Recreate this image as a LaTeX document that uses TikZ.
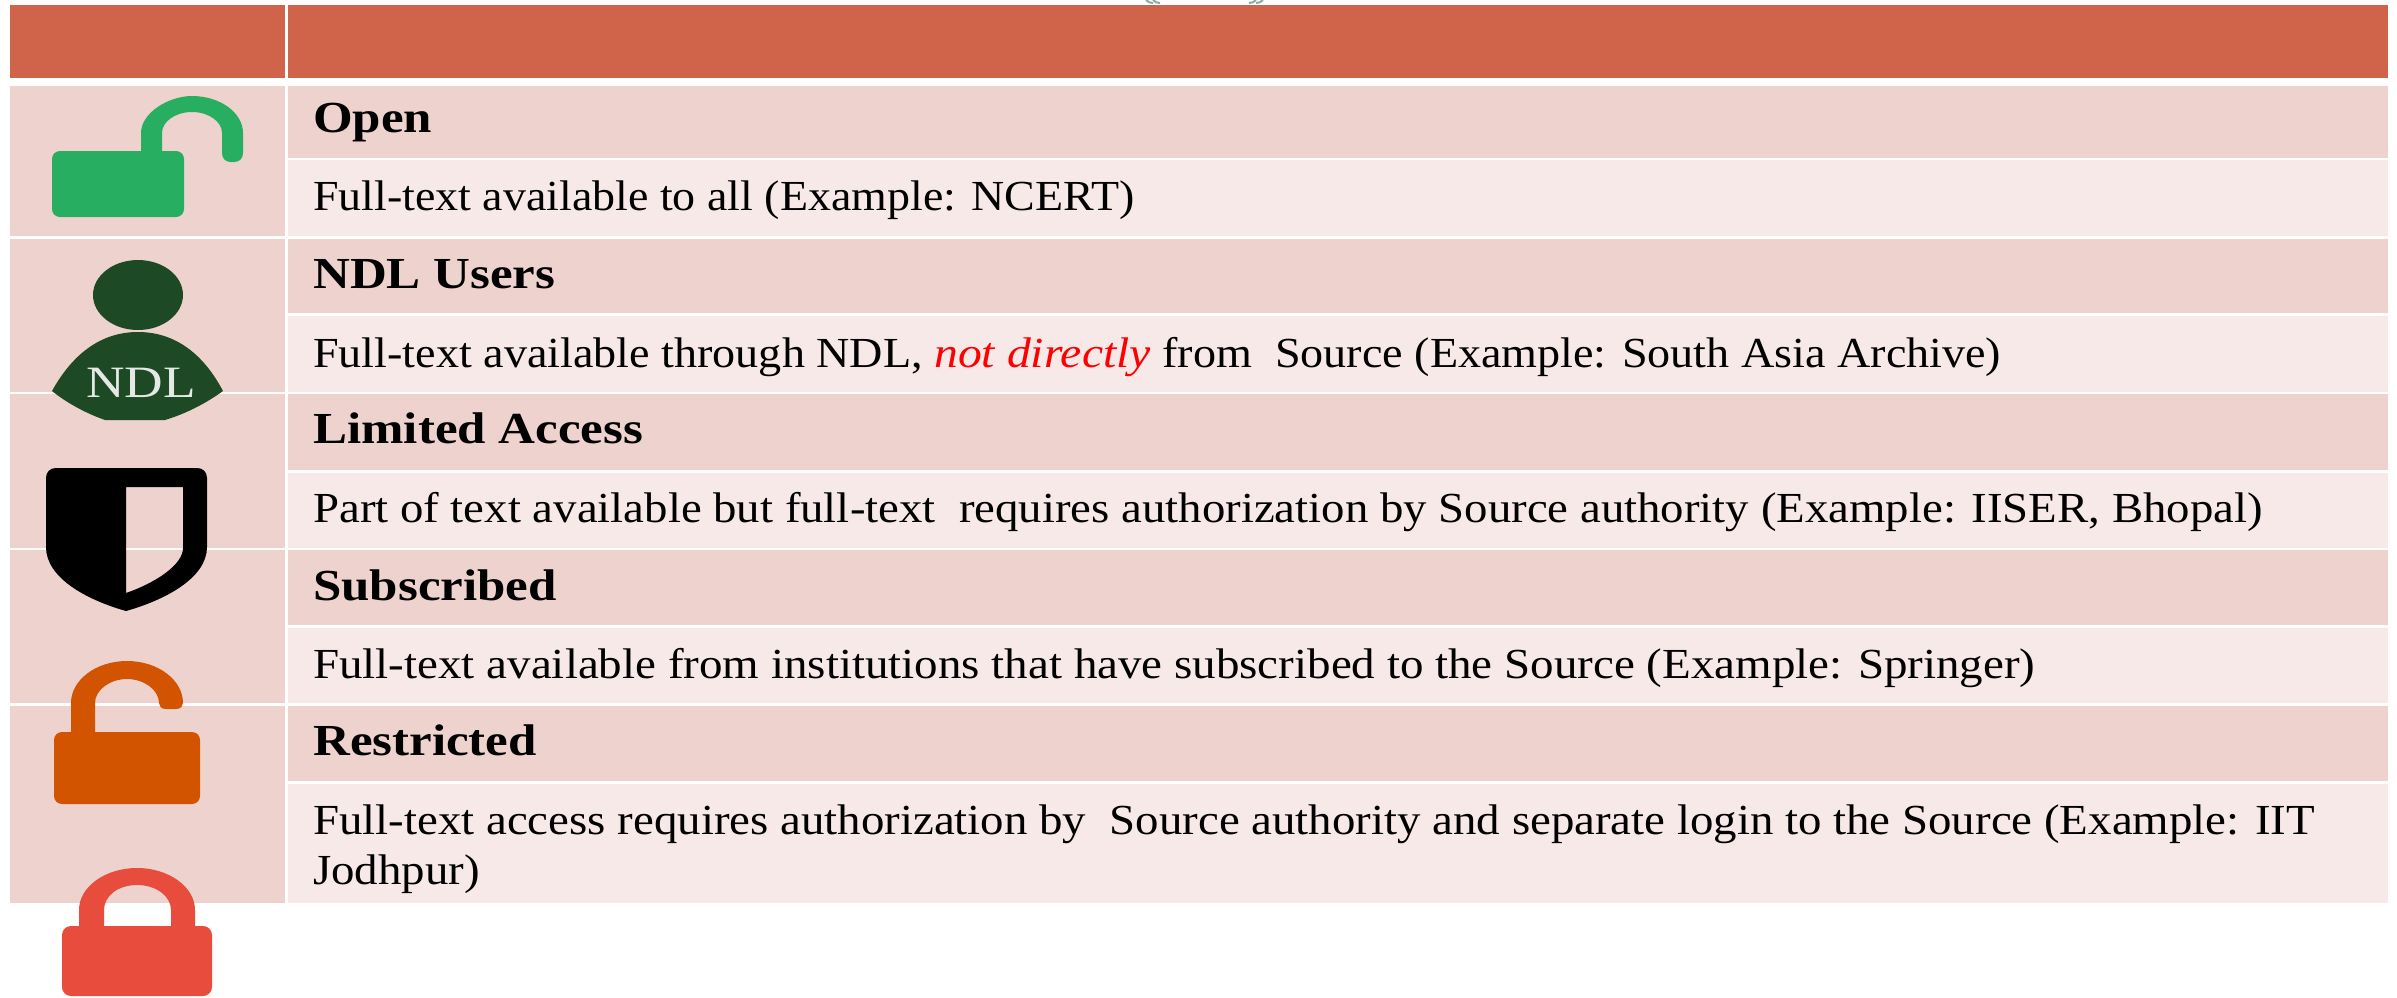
\documentclass[tikz,border=0pt]{standalone}
\usepackage{fontspec}
\setmainfont[FakeStretch=1.094,BoldFeatures={FakeStretch=1.15},ItalicFeatures={FakeStretch=1.13}]{Liberation Serif}
\newfontfamily\ndlfont[FakeStretch=1.19]{Liberation Serif}
\definecolor{hdr}{HTML}{D0644A}
\definecolor{rowa}{HTML}{EED2CE}
\definecolor{rowb}{HTML}{F7E9E8}
\definecolor{lockgreen}{HTML}{27AE60}
\definecolor{ndlgreen}{HTML}{1D4A24}
\definecolor{lockorange}{HTML}{D35400}
\definecolor{lockred}{HTML}{E74C3C}
\definecolor{notred}{HTML}{FF0000}
\definecolor{titletip}{HTML}{8FA8A4}
\tikzset{
  hcell/.style={fill=hdr},
  acell/.style={fill=rowa},
  bcell/.style={fill=rowb},
  rowtitle/.style={anchor=base west,inner sep=0pt,font=\fontsize{44.5}{50}\selectfont\bfseries},
  rowtext/.style={anchor=base west,inner sep=0pt,font=\fontsize{43}{50}\selectfont}
}
\begin{document}
\begin{tikzpicture}[x=1bp,y=-1bp]
\useasboundingbox (0,0) rectangle (2397,997);
\fill[white] (0,0) rectangle (2397,997);
% clipped title remnants
\draw[titletip,line width=2pt] (1146,0) .. controls (1148,2) and (1150,3) .. (1153,3);
\draw[titletip,line width=2pt] (1153,0) .. controls (1155,2) and (1157,3) .. (1160,3);
\draw[titletip,line width=2pt] (1263,0) .. controls (1261,2) and (1259,3) .. (1256,3);
\draw[titletip,line width=2pt] (1256,0) .. controls (1254,2) and (1252,3) .. (1249,3);
% header
\fill[hcell] (10,5) rectangle (285,78);
\fill[hcell] (288,5) rectangle (2388,78);
% left column
\fill[acell] (10,86) rectangle (285,236);
\fill[acell] (10,239) rectangle (285,392);
\fill[acell] (10,394) rectangle (285,548);
\fill[acell] (10,550) rectangle (285,703);
\fill[acell] (10,706) rectangle (285,903);
% right column
\fill[acell] (288,86) rectangle (2388,158);
\fill[bcell] (288,160) rectangle (2388,236);
\fill[acell] (288,239) rectangle (2388,313);
\fill[bcell] (288,316) rectangle (2388,392);
\fill[acell] (288,394) rectangle (2388,470);
\fill[bcell] (288,473) rectangle (2388,548);
\fill[acell] (288,550) rectangle (2388,625);
\fill[bcell] (288,628) rectangle (2388,703);
\fill[acell] (288,706) rectangle (2388,781);
\fill[bcell] (288,784) rectangle (2388,903);
% texts
\node[rowtitle] (t1) at (313,132) {Open};
\node[rowtext] (d1) at (313,210) {\scalebox{0.98}[1]{Full-text available to all (Example: NCERT)}};
\node[rowtitle] (t2) at (313,288) {NDL Users};
\node[rowtext] (d2) at (313,367) {\scalebox{0.984}[1]{Full-text available through NDL, \textcolor{notred}{\itshape not directly} from\ \ Source (Example: South Asia Archive)}};
\node[rowtitle] (t3) at (313,443) {Limited Access};
\node[rowtext] (d3) at (313,522) {\scalebox{0.9985}[1]{Part of text available but full-text\ \ requires authorization by Source authority (Example: IISER, Bhopal)}};
\node[rowtitle] (t4) at (313,600) {Subscribed};
\node[rowtext] (d4) at (313,678) {\scalebox{1.0024}[1]{Full-text available from institutions that have subscribed to the Source (Example: Springer)}};
\node[rowtitle] (t5) at (313,755) {Restricted};
\node[rowtext] (d5) at (313,834) {Full-text access requires authorization by\ \ Source authority and separate login to the Source (Example: IIT};
\node[rowtext] (d5b) at (313,884) {Jodhpur)};
% green open lock
\fill[lockgreen,rounded corners=8] (52,151) rectangle (184,217);
\fill[lockgreen] (141,155) -- (141,133) .. controls (141,112.6) and (169,96) .. (192,96)
  .. controls (220,96) and (243,112.6) .. (243,133) -- (243,153)
  .. controls (243,159) and (239,162) .. (234,162) -- (231,162)
  .. controls (226,162) and (222,159) .. (222,153) -- (222,133)
  .. controls (222,121.5) and (208.5,112) .. (192,112) .. controls (175.5,112) and (162,121.5) .. (162,133) -- (162,155) -- cycle;
% NDL user
\fill[ndlgreen] (138,295) ellipse [x radius=45,y radius=35];
\fill[ndlgreen] (52,391) .. controls (72,355) and (100,332) .. (138,332)
  .. controls (176,332) and (204,355) .. (223,391) .. controls (205,404) and (185,414) .. (165,420)
  -- (105,420) .. controls (88,414) and (68,404) .. (52,391) -- cycle;
\node[inner sep=0pt,anchor=base,text=white!88!ndlgreen,font=\fontsize{45}{50}\ndlfont] (ndl) at (141,397) {NDL};
% shield
\fill[black,even odd rule] (56,468) -- (197,468) .. controls (203,468) and (207,472) .. (207,478)
  -- (207,547) .. controls (207,578) and (165,600) .. (126,611)
  .. controls (87,600) and (46,578) .. (46,547) -- (46,478) .. controls (46,472) and (50,468) .. (56,468) -- cycle
  (126,487) -- (183,487) -- (183,548) .. controls (183,565) and (155,583) .. (126,593) -- cycle;
% orange open lock
\fill[lockorange,rounded corners=8] (54,732) rectangle (200,804);
\fill[lockorange] (71,740) -- (71,703) .. controls (71,680) and (96,661) .. (127,661)
  .. controls (158,661) and (183,680) .. (183,703) .. controls (183,706) and (181,709) .. (176,709)
  -- (166,709) .. controls (161,709) and (159,706) .. (159,703)
  .. controls (159,690) and (144,679) .. (127,679) .. controls (110,679) and (95,690) .. (95,703) -- (95,740) -- cycle;
% red lock
\fill[lockred,rounded corners=9] (62,926) rectangle (212,996);
\fill[lockred,even odd rule] (79,935) -- (79,910) .. controls (79,887) and (105,868) .. (137,868)
  .. controls (169,868) and (195,887) .. (195,910) -- (195,935) -- cycle
  (104,926) -- (171,926) -- (171,910) .. controls (171,896) and (156,885) .. (137,885)
  .. controls (118,885) and (104,896) .. (104,910) -- cycle;
\end{tikzpicture}
\end{document}
